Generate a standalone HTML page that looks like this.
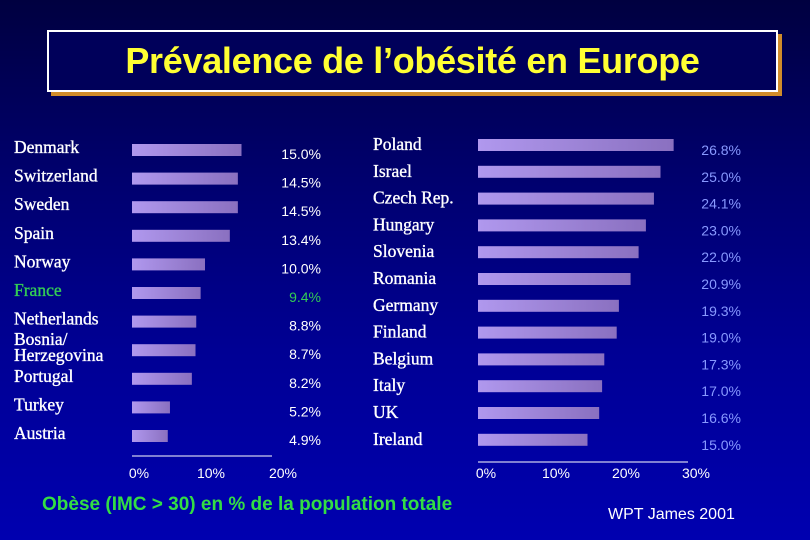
<!DOCTYPE html>
<html><head><meta charset="utf-8"><style>
html,body{margin:0;padding:0}
body{width:810px;height:540px;overflow:hidden;background:linear-gradient(#000040 0%,#00006a 30%,#000094 65%,#0000b0 100%);font-family:"Liberation Sans",sans-serif;position:relative}
#title{position:absolute;left:47px;top:30px;width:727px;height:58px;border:2px solid #fff;background:#00005a;box-shadow:4px 4px 0 #d08c2a;color:#ffff33;font-weight:bold;font-size:36px;text-align:center;line-height:58px;letter-spacing:-0.3px}
svg{position:absolute;left:0;top:0}
.lab{font-family:"Liberation Serif",serif;font-size:17.5px;fill:#fff;stroke:#fff;stroke-width:0.35px}
.val{font-size:14px;fill:#fff}
.rval{font-size:14px;fill:#8899ff}
.tick{font-size:14px;fill:#fff}
</style></head><body>
<div id="title">Prévalence de l’obésité en Europe</div>
<svg id="chart" width="810" height="540">
<defs><linearGradient id="bg" x1="0" x2="1"><stop offset="0" stop-color="#b098ee"/><stop offset="1" stop-color="#8a70c0"/></linearGradient></defs>
<text x="42" y="510" font-size="19" font-weight="bold" fill="#33dd44">Obèse (IMC &gt; 30) en  % de la population totale</text>
<text x="608" y="519" font-size="16" fill="#fff">WPT James 2001</text>
</svg>
<script>
const leftCountries=["Denmark","Switzerland","Sweden","Spain","Norway","France","Netherlands","Bosnia/\nHerzegovina","Portugal","Turkey","Austria"];
const leftValues=[15.0,14.5,14.5,13.4,10.0,9.4,8.8,8.7,8.2,5.2,4.9];
const rightCountries=["Poland","Israel","Czech Rep.","Hungary","Slovenia","Romania","Germany","Finland","Belgium","Italy","UK","Ireland"];
const rightValues=[26.8,25.0,24.1,23.0,22.0,20.9,19.3,19.0,17.3,17.0,16.6,15.0];
const leftTicks=[0,10,20];
const rightTicks=[0,10,20,30];
const svg=document.getElementById('chart');
const NS='http://www.w3.org/2000/svg';
function mk(t,a,txt){const e=document.createElementNS(NS,t);for(const k in a)e.setAttribute(k,a[k]);if(txt!==undefined)e.textContent=txt;svg.appendChild(e);return e;}
const xL=v=>132+v*7.3, xR=v=>478+v*7.3;
const yL=i=>150+i*28.6, yR=i=>145+i*26.8;
leftCountries.forEach((c,i)=>{
  const y=yL(i);
  const green=c==="France";
  const parts=c.split("\n");
  parts.forEach((p,j)=>{
    const t=mk('text',{x:14,y:(parts.length>1?y-5+j*16:y+3),class:'lab'},p);
    if(green){t.style.fill='#33cc55';t.style.stroke='#33cc55';}
    
    
  });
  const r=mk('rect',{x:xL(0),y:y-6,width:xL(leftValues[i])-xL(0),height:12,fill:'url(#bg)'});
  
  
  const v=mk('text',{x:321,y:y+9,class:'val','text-anchor':'end'},leftValues[i].toFixed(1)+'%');
  if(green)v.style.fill='#33cc55';
  
  
});
rightCountries.forEach((c,i)=>{
  const y=yR(i);
  const t=mk('text',{x:373,y:y+5,class:'lab'},c);
  
  
  const r=mk('rect',{x:xR(0),y:y-6,width:xR(rightValues[i])-xR(0),height:12,fill:'url(#bg)'});
  
  
  const v=mk('text',{x:741,y:y+10,class:'rval','text-anchor':'end'},rightValues[i].toFixed(1)+'%');
  
  
});
const la=mk('line',{x1:xL(0),x2:xL(leftTicks[leftTicks.length-1])-6,y1:456,y2:456,stroke:'#fff','stroke-width':1});


leftTicks.forEach(t=>{
  const e=mk('text',{x:xL(t)+7-t*0.1,y:478,class:'tick','text-anchor':'middle'},t+'%');
  
  
});
const ra=mk('line',{x1:xR(0),x2:xR(rightTicks[rightTicks.length-1])-9,y1:462,y2:462,stroke:'#fff','stroke-width':1});


rightTicks.forEach(t=>{
  const e=mk('text',{x:xR(t)+8-t*0.3,y:478,class:'tick','text-anchor':'middle'},t+'%');
  
  
});
</script>
</body></html>
